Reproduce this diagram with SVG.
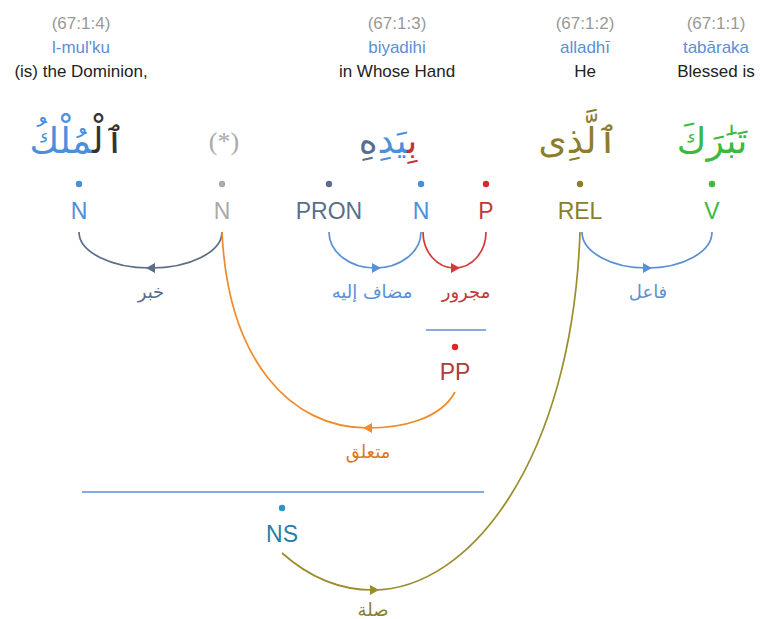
<svg xmlns="http://www.w3.org/2000/svg" width="760" height="619" viewBox="0 0 760 619">
<style>
.loc{font-family:"Liberation Sans",Arial,sans-serif;font-size:17px;fill:#999;text-anchor:middle}
.tr{font-family:"Liberation Sans",Arial,sans-serif;font-size:17px;fill:#5b8fd6;text-anchor:middle}
.en{font-family:"Liberation Sans",Arial,sans-serif;font-size:17px;fill:#222;text-anchor:middle}
.ar{font-family:"DejaVu Sans","Noto Sans",sans-serif;font-size:36px;text-anchor:middle}
.tag{font-family:"Liberation Sans",Arial,sans-serif;font-size:23px;text-anchor:middle}
.lab{font-family:"DejaVu Sans",sans-serif;font-size:18px;text-anchor:middle}
.arc{fill:none;stroke-width:1.7}
</style>
<rect width="760" height="619" fill="#fff"/>
<g id="w4">
<text class="loc" x="81" y="29">(67:1:4)</text>
<text class="tr" x="81" y="53">l-mul'ku</text>
<text class="en" x="81" y="77">(is) the Dominion,</text>
<text class="ar" x="77" y="153" direction="rtl"><tspan fill="#333">ٱلْ</tspan><tspan fill="#4a8fde">مُلْكُ</tspan></text>
</g>
<g id="w3">
<text class="loc" x="397" y="29">(67:1:3)</text>
<text class="tr" x="397" y="53">biyadihi</text>
<text class="en" x="397" y="77">in Whose Hand</text>
<text class="ar" x="388" y="153" direction="rtl"><tspan fill="#c83232">بِ</tspan><tspan fill="#4a8fde">يَدِ</tspan><tspan fill="#5a6e8a">هِ</tspan></text>
</g>
<g id="w2">
<text class="loc" x="585" y="29">(67:1:2)</text>
<text class="tr" x="585" y="53">alladhī</text>
<text class="en" x="585" y="77">He</text>
<text class="ar" x="578" y="153" fill="#8b7d2a">ٱلَّذِى</text>
</g>
<g id="w1">
<text class="loc" x="716" y="29">(67:1:1)</text>
<text class="tr" x="716" y="53">tabāraka</text>
<text class="en" x="716" y="77">Blessed is</text>
<text class="ar" x="712" y="153" fill="#3cba3c">تَبَٰرَكَ</text>
</g>
<g id="star">
<text x="224" y="150" font-family="Liberation Serif,serif" font-size="26" fill="#aaa" text-anchor="middle">(*)</text>
</g>
<g id="n-N4"><circle cx="79" cy="184" r="3.2" fill="#4a8fde"/><text class="tag" x="79" y="219" fill="#4a8fde">N</text></g>
<g id="n-Nstar"><circle cx="222" cy="184" r="3.2" fill="#aaa"/><text class="tag" x="222" y="219" fill="#aaa">N</text></g>
<g id="n-PRON"><circle cx="329" cy="184" r="3.2" fill="#5a6e8a"/><text class="tag" x="329" y="219" fill="#5a6e8a">PRON</text></g>
<g id="n-N3"><circle cx="421" cy="184" r="3.2" fill="#4a8fde"/><text class="tag" x="421" y="219" fill="#4a8fde">N</text></g>
<g id="n-P"><circle cx="486" cy="184" r="3.2" fill="#d42a2a"/><text class="tag" x="486" y="219" fill="#c03a3a">P</text></g>
<g id="n-REL"><circle cx="580" cy="184" r="3.2" fill="#8b7d2a"/><text class="tag" x="580" y="219" fill="#8b7d2a">REL</text></g>
<g id="n-V"><circle cx="712" cy="184" r="3.2" fill="#3cba3c"/><text class="tag" x="712" y="219" fill="#3cba3c">V</text></g>
<g id="n-PP"><line x1="426" y1="330" x2="486" y2="330" stroke="#5b8fd6" stroke-width="1.7"/><circle cx="455" cy="347" r="3.2" fill="#d42a2a"/><text class="tag" x="455" y="380" fill="#b23a3a">PP</text></g>
<g id="n-NS"><line x1="82" y1="492" x2="484" y2="492" stroke="#5b8fd6" stroke-width="1.7"/><circle cx="282" cy="508" r="3.2" fill="#2a96c4"/><text class="tag" x="282" y="542" fill="#2a7ea8">NS</text></g>
<g id="connectors">
<path class="arc" stroke="#5a6e8a" d="M222,232 A71.5,36 0 0 1 79,232"/>
<polygon points="146,268 155,263 155,273" fill="#5a6e8a"/>
<text class="lab" x="151" y="298" fill="#5a6e8a">خبر</text>
<path class="arc" stroke="#5b8fd6" d="M329,232 A46,36 0 0 0 421,232"/>
<polygon points="381,268 372,263 372,273" fill="#5b8fd6"/>
<text class="lab" x="372" y="298" fill="#5b8fd6">مضاف إليه</text>
<path class="arc" stroke="#d43a3a" d="M423,232 A31.5,36 0 0 0 486,232"/>
<polygon points="460,268 451,263 451,273" fill="#d43a3a"/>
<text class="lab" x="466" y="298" fill="#c03a3a">مجرور</text>
<path class="arc" stroke="#5b8fd6" d="M582,232 A65,36 0 0 0 712,232"/>
<polygon points="652,268 643,263 643,273" fill="#5b8fd6"/>
<text class="lab" x="648" y="298" fill="#5b8fd6">فاعل</text>
<path class="arc" stroke="#f08a2a" d="M455,392 C440,420 400,428 368,428 C290,428 228,360 222,232"/>
<polygon points="363,428 372,423 372,433" fill="#f08a2a"/>
<text class="lab" x="368" y="458" fill="#e0781e">متعلق</text>
<path class="arc" stroke="#9b8d2a" d="M282,553 C310,578 340,590 373,590 C470,590 572,460 580,232"/>
<polygon points="379,590 370,585 370,595" fill="#9b8d2a"/>
<text class="lab" x="373" y="616" fill="#8b7d2a">صلة</text>
</g>
</svg>
